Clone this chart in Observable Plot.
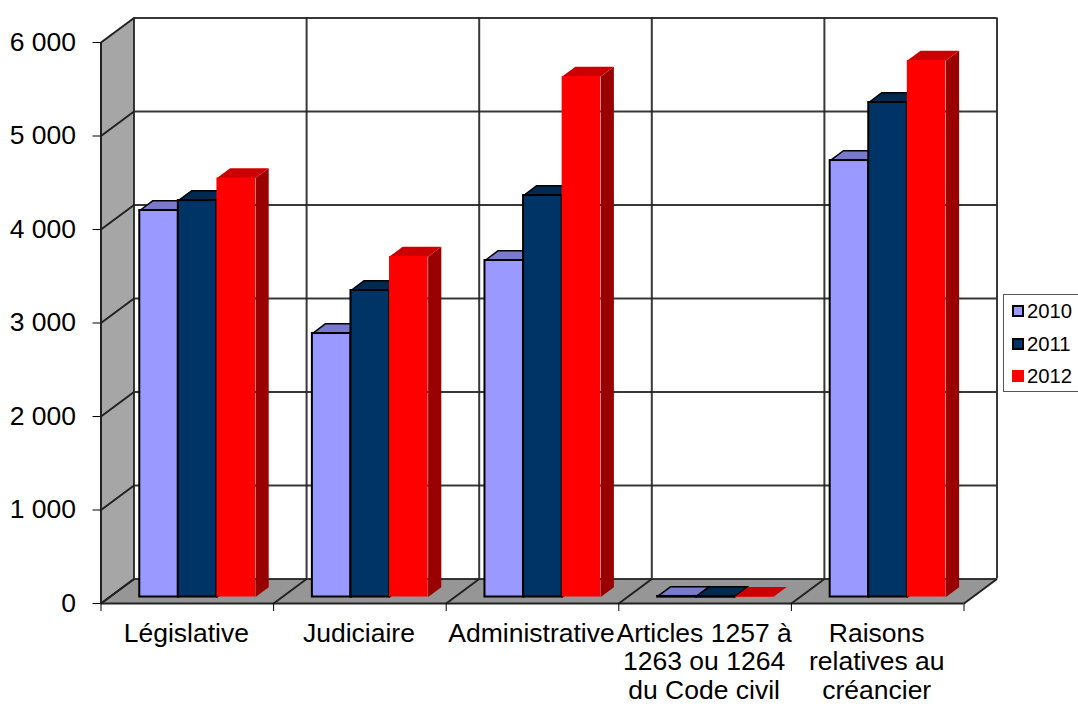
<!DOCTYPE html>
<html><head><meta charset="utf-8">
<script src="https://cdn.jsdelivr.net/npm/d3@7"></script>
<script src="https://cdn.jsdelivr.net/npm/@observablehq/plot@0.6"></script>
<style>
html,body{margin:0;padding:0;background:#fff;overflow:hidden}
#wrap{position:relative;width:1078px;height:707px;overflow:hidden;font-family:"Liberation Sans",Arial,sans-serif}
#wrap svg{display:block;background:#fff}
#legend{position:absolute;left:1003px;top:294px;width:80px;height:98px;box-sizing:border-box;border:1px solid #555;background:#fff}
#legend div{position:absolute;left:23px;font-size:20.3px;line-height:22px;color:#000}
#legend i{position:absolute;left:-15px;top:5px;width:8px;height:8px;border:2px solid #000}
</style></head><body>
<div id="wrap"></div>
<script>
const categories = ["Législative", "Judiciaire", "Administrative", "Articles 1257 à\n1263 ou 1264\ndu Code civil", "Raisons\nrelatives au\ncréancier"];
const years = ["2010", "2011", "2012"];
const values2010 = [4134, 2818, 3599, 6, 4668];
const values2011 = [4240, 3278, 4294, 4, 5289];
const values2012 = [4481, 3642, 5567, 3, 5738];
const yTicks = [0, 1000, 2000, 3000, 4000, 5000, 6000];
const frontColors = ["#9999FF", "#003366", "#FF0000"];
const topColors = ["#7A7ACC", "#002952", "#CC0000"];
const sideColors = ["#5C5C99", "#001F3D", "#990000"];
const outlines = ["#000", "#000", "#FF3030"];

const seriesValues = [values2010, values2011, values2012];
const DX = 0.1912, DY = 262;           // chart depth in data units
const D1 = 0.265, D2 = 0.665;          // bar's front and back planes, as a share of the depth
const GAP = 0.174, BAR = 0.2235;
const catIndex = d3.range(categories.length + 1);
const lineColor = "#222";

const pt = (c, v, d) => ({x: c + d * DX, y: v + d * DY});
const poly = (id, pts) => pts.map(p => ({id, ...p}));
const face = (polys, fill, stroke, sw = 1.5) =>
  Plot.line(polys.flat(), {x: "x", y: "y", z: "id", fill, stroke, strokeWidth: sw, strokeLinejoin: "round", curve: "linear"});

const marks = [];
// walls and floor
marks.push(face([poly("wall", [pt(0,0,0), pt(0,6000,0), pt(0,6000,1), pt(0,0,1), pt(0,0,0)])], "#A6A6A6", "none"));
marks.push(face([poly("floor", [pt(0,0,0), pt(5,0,0), pt(5,0,1), pt(0,0,1), pt(0,0,0)])], "#969696", "none"));
// back wall grid
marks.push(Plot.ruleY(yTicks, {y: v => v + DY, x1: DX, x2: 5 + DX, stroke: lineColor, strokeWidth: 2, strokeOpacity: .9}));
marks.push(Plot.ruleX(catIndex, {x: c => c + DX, y1: DY, y2: 6000 + DY, stroke: lineColor, strokeWidth: 2, strokeOpacity: .9}));
// left wall diagonals and floor diagonals
marks.push(Plot.link(yTicks, {x1: 0, x2: DX, y1: v => v, y2: v => v + DY, stroke: lineColor, strokeWidth: 2}));
marks.push(Plot.link(catIndex, {x1: c => c, x2: c => c + DX, y1: 0, y2: DY, stroke: lineColor, strokeWidth: 2}));
marks.push(Plot.ruleX([0], {y1: 0, y2: 6000, stroke: lineColor, strokeWidth: 2}));
marks.push(Plot.ruleY([0], {x1: 0, x2: 5, stroke: lineColor, strokeWidth: 2}));

// bars, left to right
seriesValues.forEach((vals, s) => {
  const rows = vals.map((v, c) => ({c, v, x0: c + GAP + s * BAR, x1: c + GAP + (s + 1) * BAR}));
  const tops = rows.map(r => poly(`t${r.c}`, [pt(r.x0,r.v,D1), pt(r.x1,r.v,D1), pt(r.x1,r.v,D2), pt(r.x0,r.v,D2), pt(r.x0,r.v,D1)]));
  const sides = rows.map(r => poly(`s${r.c}`, [pt(r.x1,0,D1), pt(r.x1,r.v,D1), pt(r.x1,r.v,D2), pt(r.x1,0,D2), pt(r.x1,0,D1)]));
  marks.push(face(sides, sideColors[s], s === 2 ? "none" : outlines[s], 1.5));
  marks.push(face(tops, topColors[s], s === 2 ? "none" : outlines[s], 1.5));
  marks.push(Plot.rect(rows, {
    x1: r => r.x0 + D1 * DX, x2: r => r.x1 + D1 * DX,
    y1: D1 * DY, y2: r => r.v + D1 * DY,
    fill: frontColors[s], stroke: s === 2 ? "none" : outlines[s], strokeWidth: 2
  }));
});

// axes
marks.push(Plot.axisY({ticks: yTicks, tickSize: 8, tickPadding: 17, fontSize: 26.5, label: null, stroke: "#000",
  tickFormat: v => d3.format(",")(v).replace(",", "\u00a0")}));
marks.push(Plot.axisX({ticks: catIndex, tickSize: 8, tickFormat: () => "", label: null, stroke: "#000"}));
marks.push(Plot.text(categories, {
  x: (d, i) => i + 0.5, y: 0, text: d => d, dx: -1, dy: 18, lineAnchor: "top", lineHeight: 1.08,
  fontSize: 26.5, fill: "#000", textAnchor: "middle"
}));

const chart = Plot.plot({
  width: 1078, height: 707,
  marginLeft: 100.5, marginRight: 114.5, marginTop: 42, marginBottom: 104,
  style: {fontFamily: '"Liberation Sans", Arial, sans-serif', background: "#fff", overflow: "visible"},
  x: {type: "linear", domain: [0, 5], axis: null},
  y: {type: "linear", domain: [0, 6000], axis: null},
  marks
});
const wrap = document.getElementById("wrap");
wrap.appendChild(chart);

// legend
const legend = document.createElement("div");
legend.id = "legend";
years.forEach((y, i) => {
  const row = document.createElement("div");
  row.style.top = (5 + i * 32.5) + "px";
  row.textContent = y;
  const sw = document.createElement("i");
  sw.style.background = frontColors[i];
  if (i === 2) sw.style.borderColor = frontColors[i];
  row.appendChild(sw);
  legend.appendChild(row);
});
wrap.appendChild(legend);
</script>
</body></html>
